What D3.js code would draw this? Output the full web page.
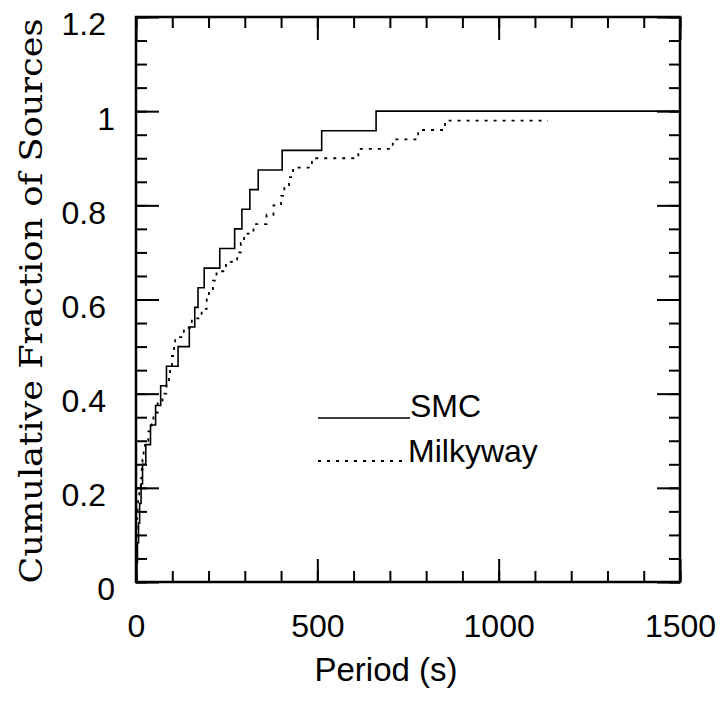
<!DOCTYPE html>
<html><head><meta charset="utf-8">
<script src="https://cdn.jsdelivr.net/npm/d3@7/dist/d3.min.js"></script>
<style>body{margin:0;background:#fff}</style></head>
<body>
<svg id="chart" width="725" height="702"></svg>
<script>
// SMC: periods (s) at which the cumulative fraction steps up by 1/24
const smcPeriods = [2, 4, 7, 10, 14, 18, 27, 40, 54, 68, 84, 116, 147, 162, 171, 188, 231, 272, 292, 314, 337, 403, 512, 662];
const smcCount = 24;
// Milky Way: periods (s) at which the cumulative fraction steps up by 1/50
const mwPeriods = [0.3, 0.5, 0.7, 1, 1.4, 1.9, 2.7, 4, 6, 9, 13, 16, 18, 21, 25, 34, 43, 48, 60, 73,
                   84, 91, 94, 99, 105, 108, 132, 154, 181, 195, 201, 212, 222, 248, 279, 289, 298, 324, 360, 379,
                   400, 409, 422, 433, 485, 613, 708, 778, 852];
const mwCount = 50;
const mwLastPeriod = 1136;
const seriesNames = ["SMC", "Milkyway"];
const xTickLabels = [0, 500, 1000, 1500];
const xMinorTicks = d3.range(0, 1501, 100);
const yTickLabels = [0, 0.2, 0.4, 0.6, 0.8, 1, 1.2];
const yMinorTicks = d3.range(0, 1.2001, 0.05);
const xTitle = "Period (s)";
const yTitle = "Cumulative Fraction of Sources";

const svg = d3.select("#chart");
const L = 136, R = 680, T = 17, B = 582;
const x = d3.scaleLinear().domain([0, 1500]).range([L, R]);
const y = d3.scaleLinear().domain([0, 1.2]).range([B, T]);
const font = "'Liberation Sans', Arial, Helvetica, sans-serif";

svg.append("rect").attr("width", 725).attr("height", 702).attr("fill", "#fff");

function styleAxis(g) {
  g.select(".domain").remove();
  g.selectAll(".tick line").attr("stroke", "#000").attr("stroke-width", 2);
}
// minor ticks, all four sides
svg.append("g").attr("transform", `translate(0,${B})`)
  .call(d3.axisBottom(x).tickValues(xMinorTicks).tickSize(-11).tickFormat("")).call(styleAxis);
svg.append("g").attr("transform", `translate(0,${T})`)
  .call(d3.axisTop(x).tickValues(xMinorTicks).tickSize(-11).tickFormat("")).call(styleAxis);
svg.append("g").attr("transform", `translate(${L},0)`)
  .call(d3.axisLeft(y).tickValues(yMinorTicks).tickSize(-11).tickFormat("")).call(styleAxis);
svg.append("g").attr("transform", `translate(${R},0)`)
  .call(d3.axisRight(y).tickValues(yMinorTicks).tickSize(-11).tickFormat("")).call(styleAxis);
// major ticks + labels
const xb = svg.append("g").attr("transform", `translate(0,${B})`)
  .call(d3.axisBottom(x).tickValues(xTickLabels).tickSize(-23).tickPadding(32).tickFormat(d3.format("d"))).call(styleAxis);
svg.append("g").attr("transform", `translate(0,${T})`)
  .call(d3.axisTop(x).tickValues(xTickLabels).tickSize(-23).tickFormat("")).call(styleAxis);
const yl = svg.append("g").attr("transform", `translate(${L},0)`)
  .call(d3.axisLeft(y).tickValues(yTickLabels).tickSize(-23).tickPadding(30).tickFormat(d => String(d))).call(styleAxis);
svg.append("g").attr("transform", `translate(${R},0)`)
  .call(d3.axisRight(y).tickValues(yTickLabels).tickSize(-23).tickFormat("")).call(styleAxis);
xb.selectAll("text").attr("font-family", font).attr("font-size", 32).attr("fill", "#000");
yl.selectAll("text").attr("font-family", font).attr("font-size", 32).attr("fill", "#000").attr("dy", "0.56em")
  .attr("dx", d => String(d).length === 1 ? 9 : 0);

// frame
svg.append("rect").attr("x", L).attr("y", T).attr("width", R - L).attr("height", B - T)
  .attr("fill", "none").attr("stroke", "#000").attr("stroke-width", 2.5);

// step curves
const line = d3.line().x(d => x(d[0])).y(d => y(d[1])).curve(d3.curveStepAfter);
const smcPts = [[0, 0]].concat(smcPeriods.map((p, i) => [p, (i + 1) / smcCount]), [[1500, 1]]);
const mwPts = [[0, 0]].concat(mwPeriods.map((p, i) => [p, (i + 1) / mwCount]), [[mwLastPeriod, mwPeriods.length / mwCount]]);

svg.append("path").attr("d", line(smcPts)).attr("fill", "none").attr("stroke", "#000").attr("stroke-width", 1.6);
svg.append("path").attr("d", line(mwPts)).attr("fill", "none").attr("stroke", "#000").attr("stroke-width", 1.8)
  .attr("stroke-dasharray", "3,6");

// legend
const leg = svg.append("g");
leg.append("line").attr("x1", 318).attr("x2", 410).attr("y1", 418).attr("y2", 418).attr("stroke", "#000").attr("stroke-width", 1.6);
leg.append("text").attr("x", 410).attr("y", 417).text(seriesNames[0]).attr("font-family", font).attr("font-size", 32);
leg.append("line").attr("x1", 318).attr("x2", 406).attr("y1", 461).attr("y2", 461).attr("stroke", "#000").attr("stroke-width", 1.8).attr("stroke-dasharray", "3,6");
leg.append("text").attr("x", 408).attr("y", 462).text(seriesNames[1]).attr("font-family", font).attr("font-size", 32);

// titles
svg.append("text").attr("x", 386).attr("y", 681).attr("text-anchor", "middle")
  .attr("font-family", font).attr("font-size", 33).text(xTitle);
svg.append("text").attr("transform", "translate(42,301) rotate(-90)").attr("text-anchor", "middle")
  .attr("font-family", "'DejaVu Serif', 'Liberation Serif', serif").attr("font-size", 32)
  .attr("textLength", 565).attr("lengthAdjust", "spacingAndGlyphs")
  .text(yTitle);
</script>
</body></html>
